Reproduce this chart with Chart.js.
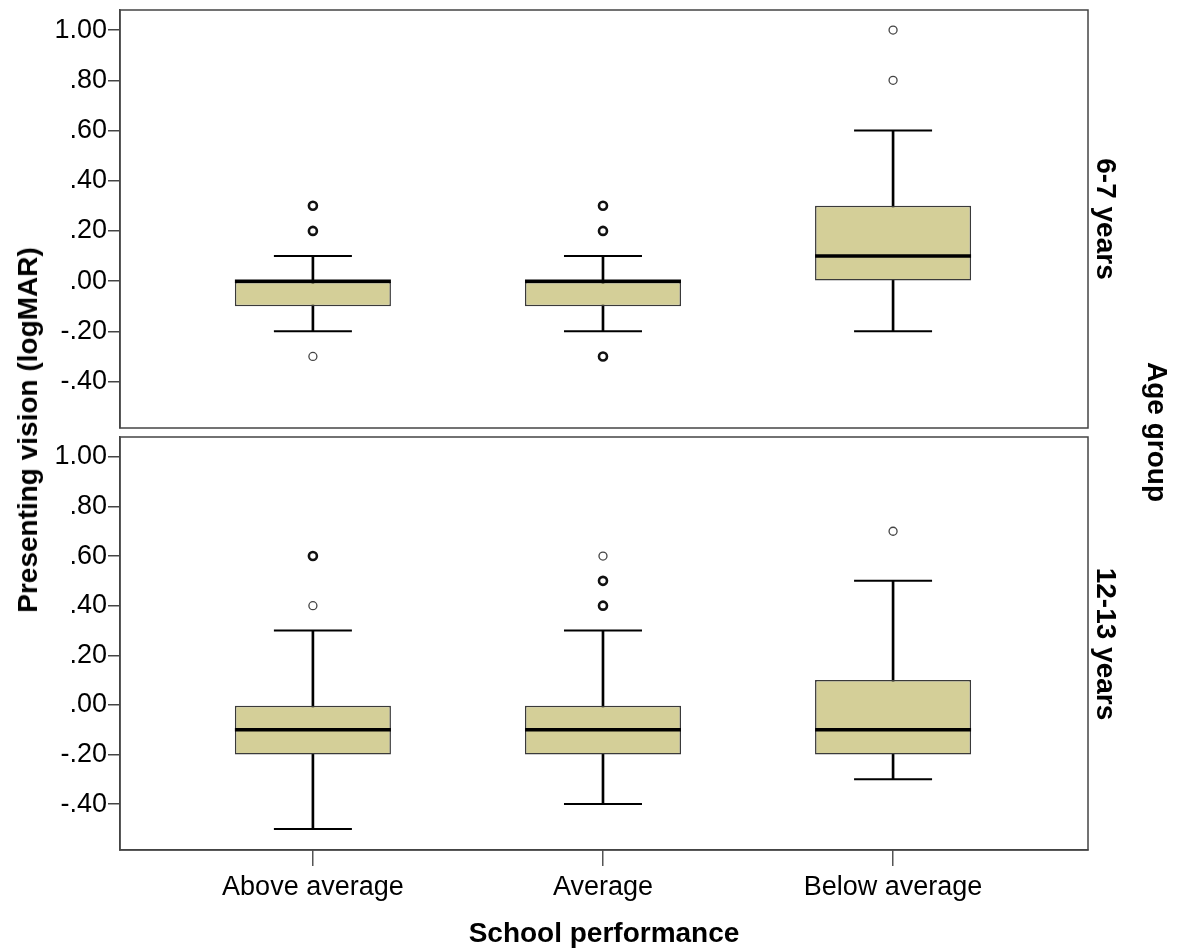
<!DOCTYPE html>
<html>
<head>
<meta charset="utf-8">
<script src="https://cdn.jsdelivr.net/npm/chart.js@4.4.1/dist/chart.umd.min.js"></script>
<style>
  body { margin: 0; background: #fff; }
  #wrap { position: relative; width: 1187px; height: 948px; overflow: hidden; font-family: 'Liberation Sans', Arial, sans-serif; }
  .panel { position: absolute; left: 0; width: 1187px; }
  .lbl { position: absolute; font-weight: bold; font-size: 28px; color: #000; white-space: nowrap; line-height: 1; }
</style>
</head>
<body>
<div id="wrap">
  <div class="panel" style="top:0; height:440px;"><canvas id="topPanel"></canvas></div>
  <div class="panel" style="top:430px; height:518px;"><canvas id="bottomPanel"></canvas></div>
  <div class="lbl" style="left:28px; top:430px; transform: translate(-50%, -50%) rotate(-90deg);">Presenting vision (logMAR)</div>
  <div class="lbl" style="left:1106px; top:219px; transform: translate(-50%, -50%) rotate(90deg);">6-7 years</div>
  <div class="lbl" style="left:1106px; top:644px; transform: translate(-50%, -50%) rotate(90deg);">12-13 years</div>
  <div class="lbl" style="left:1157px; top:432px; transform: translate(-50%, -50%) rotate(90deg);">Age group</div>
  <div class="lbl" style="left:604px; top:933px; transform: translate(-50%, -50%);">School performance</div>
</div>
<script>
const categories = ['Above average', 'Average', 'Below average'];

// 6-7 years
const youngQ1 = [-0.10, -0.10, 0.00];
const youngMedian = [0.00, 0.00, 0.10];
const youngQ3 = [0.00, 0.00, 0.30];
const youngLow = [-0.20, -0.20, -0.20];
const youngHigh = [0.10, 0.10, 0.60];
const youngOutliers = [[0.30, 0.20, -0.30], [0.30, 0.20, -0.30], [1.00, 0.80]];
const youngOutlierCount = [[2, 2, 1], [2, 2, 2], [1, 1]];

// 12-13 years
const olderQ1 = [-0.20, -0.20, -0.20];
const olderMedian = [-0.10, -0.10, -0.10];
const olderQ3 = [0.00, 0.00, 0.10];
const olderLow = [-0.50, -0.40, -0.30];
const olderHigh = [0.30, 0.30, 0.50];
const olderOutliers = [[0.60, 0.40], [0.60, 0.50, 0.40], [0.70]];
const olderOutlierCount = [[2, 1], [1, 2, 2], [1]];

const yTicks = [-0.40, -0.20, 0.00, 0.20, 0.40, 0.60, 0.80, 1.00];
const yTickLabels = ['-.40', '-.20', '.00', '.20', '.40', '.60', '.80', '1.00'];

const BOX_FILL = '#d4cf98';
const FONT = "'Liberation Sans', Arial, sans-serif";

// frame round each panel
const framePlugin = {
    id: 'frame',
    afterDraw(chart) {
        const a = chart.chartArea;
        const ctx = chart.ctx;
        ctx.save();
        ctx.strokeStyle = '#444';
        ctx.lineWidth = 1.5;
        ctx.strokeRect(a.left, a.top, a.right - a.left, a.bottom - a.top);
        ctx.restore();
    }
};

function makePanel(id, q1, med, q3, lo, hi, outliers, counts, showX, padding, xHeight) {
    const outlierPts = [];
    const outlierWidths = [];
    const outlierColors = [];
    outliers.forEach((list, i) => {
        list.forEach((v, j) => {
            outlierPts.push({ x: i, y: v });
            outlierWidths.push(counts[i][j] > 1 ? 2.6 : 1.3);
            outlierColors.push(counts[i][j] > 1 ? '#111' : '#444');
        });
    });
    const at = (arr) => arr.map((v, i) => ({ x: i, y: v }));

    new Chart(document.getElementById(id).getContext('2d'), {
        type: 'bar',
        data: {
            datasets: [{
                // whisker stem
                type: 'bar',
                data: lo.map((v, i) => ({ x: i, y: [v, hi[i]] })),
                backgroundColor: '#000',
                barThickness: 2,
                grouped: false,
                order: 4
            }, {
                // box
                type: 'bar',
                data: q1.map((v, i) => ({ x: i, y: [v, q3[i]] })),
                backgroundColor: BOX_FILL,
                borderColor: '#3a3a3a',
                borderWidth: 1.5,
                borderSkipped: false,
                barPercentage: 0.538,
                categoryPercentage: 1,
                grouped: false,
                order: 3
            }, {
                // median
                type: 'line',
                data: at(med),
                showLine: false,
                pointStyle: 'line',
                pointRadius: 78,
                pointBorderWidth: 3.5,
                borderColor: '#000',
                order: 2
            }, {
                type: 'line',
                data: at(lo),
                showLine: false,
                pointStyle: 'line',
                pointRadius: 39,
                pointBorderWidth: 2,
                borderColor: '#000',
                order: 2
            }, {
                type: 'line',
                data: at(hi),
                showLine: false,
                pointStyle: 'line',
                pointRadius: 39,
                pointBorderWidth: 2,
                borderColor: '#000',
                order: 2
            }, {
                // outliers
                type: 'line',
                data: outlierPts,
                showLine: false,
                pointStyle: 'circle',
                pointRadius: 4,
                pointBorderWidth: outlierWidths,
                pointBorderColor: outlierColors,
                pointBackgroundColor: '#fff',
                order: 1
            }]
        },
        options: {
            responsive: true,
            maintainAspectRatio: false,
            animation: false,
            events: [],
            layout: { padding: padding, autoPadding: false },
            plugins: {
                legend: { display: false },
                tooltip: { enabled: false }
            },
            scales: {
                x: {
                    type: 'linear',
                    display: showX,
                    offset: false,
                    min: -0.665,
                    max: categories.length - 1 + 0.672,
                    afterFit: (scale) => { scale.height = xHeight; },
                    afterBuildTicks: (scale) => { scale.ticks = categories.map((c, i) => ({ value: i })); },
                    grid: {
                        offset: false,
                        drawOnChartArea: false,
                        drawTicks: true,
                        tickLength: 16,
                        color: '#555',
                        lineWidth: 1.5
                    },
                    border: { display: true, color: '#444', width: 1.5 },
                    ticks: {
                        color: '#000',
                        padding: 5,
                        maxRotation: 0,
                        autoSkip: false,
                        font: { family: FONT, size: 27 },
                        callback: (value, index) => categories[index]
                    }
                },
                y: {
                    type: 'linear',
                    min: -0.585,
                    max: 1.08,
                    afterFit: (scale) => {
                        scale.width = 120;
                        scale.paddingTop = 0;
                        scale.paddingBottom = 0;
                    },
                    afterBuildTicks: (scale) => { scale.ticks = yTicks.map(v => ({ value: v })); },
                    grid: {
                        drawOnChartArea: false,
                        drawTicks: true,
                        tickLength: 12,
                        color: '#444',
                        lineWidth: 1.5
                    },
                    border: { display: true, color: '#444', width: 1.5 },
                    ticks: {
                        color: '#000',
                        padding: 1,
                        font: { family: FONT, size: 27 },
                        callback: (value, index) => yTickLabels[index]
                    }
                }
            }
        },
        plugins: [framePlugin]
    });
}

makePanel('topPanel', youngQ1, youngMedian, youngQ3, youngLow, youngHigh,
    youngOutliers, youngOutlierCount, false, { top: 10, right: 99, bottom: 12, left: 0 }, 0);
makePanel('bottomPanel', olderQ1, olderMedian, olderQ3, olderLow, olderHigh,
    olderOutliers, olderOutlierCount, true, { top: 7, right: 99, bottom: 38, left: 0 }, 60);
</script>
</body>
</html>
